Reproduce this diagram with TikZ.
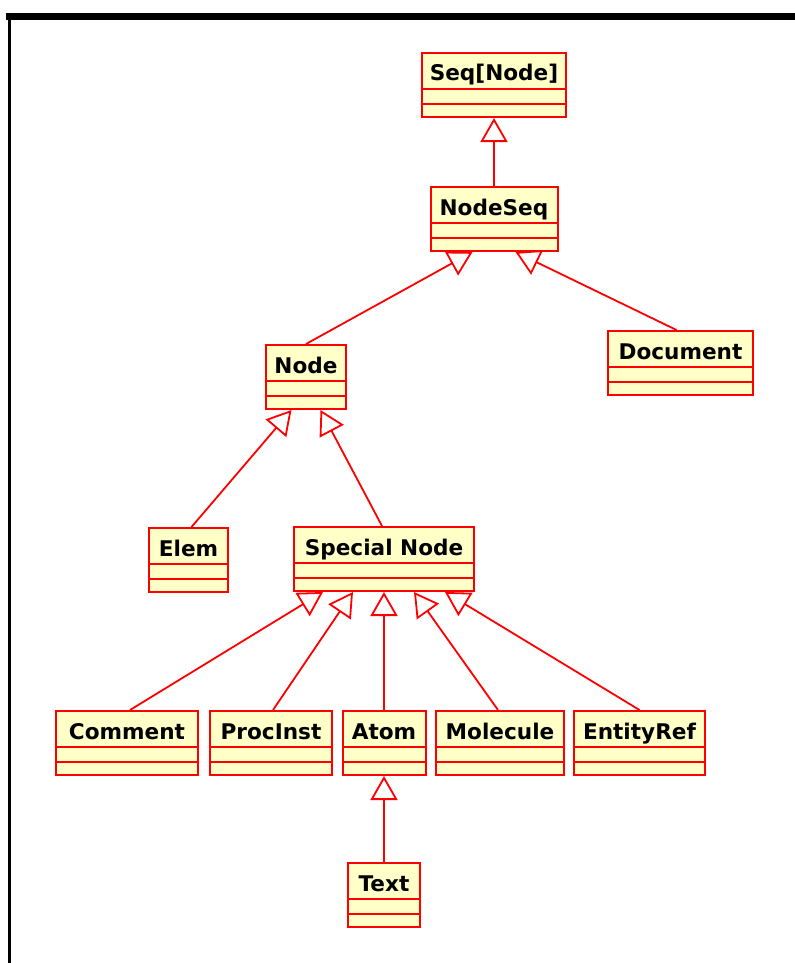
\documentclass[tikz,border=0pt]{standalone}
\usepackage{fontspec}
\newfontfamily\umlfont{DejaVu Sans}
\usetikzlibrary{arrows.meta,calc}
\definecolor{umlred}{RGB}{255,0,0}
\definecolor{umlfill}{RGB}{255,255,200}
\tikzset{class box/.style={
    draw=umlred, fill=umlfill, line width=1pt,
    anchor=north, inner xsep=0pt, inner ysep=0pt,
    text height=14pt, text depth=18pt,
    font=\umlfont\bfseries\fontsize{10.8}{13}\selectfont,
    minimum width=#1
  },
  extends/.style={
    draw=umlred, line width=0.9pt,
    -{Triangle[open, fill=white, length=12pt, width=13.5pt]}
  },
  divider/.style={
    draw=umlred, line width=1pt
  }
}

\begin{document}
\begin{tikzpicture}[x=0.5pt,y=-0.5pt]
  \useasboundingbox (0,0) rectangle (795,963);
  % -- The window frame.
  \fill[black] (6,13) rectangle (795,20);
  \fill[black] (7.5,13) rectangle (10.5,963);

  % -- The classes.
  \node[class box=72pt]   (seq)  at (494,52)    {Seq[Node]};
  \node[class box=63.5pt] (nseq) at (494,186)   {NodeSeq};
  \node[class box=40pt]   (node) at (306,344)   {Node};
  \node[class box=72.5pt] (doc)  at (680.5,330) {Document};
  \node[class box=39.5pt] (elem) at (188.5,527) {Elem};
  \node[class box=90pt]   (spec) at (384,526)   {Special Node};
  \node[class box=71pt]   (cmt)  at (127,710)   {Comment};
  \node[class box=61pt]   (proc) at (271,710)   {ProcInst};
  \node[class box=41.5pt] (atom) at (384,710)   {Atom};
  \node[class box=64pt]   (mol)  at (500,710)   {Molecule};
  \node[class box=65.5pt] (ent)  at (639.5,710) {EntityRef};
  \node[class box=36pt]   (text) at (384,862)   {Text};

  % -- The empty attribute and method compartments.
  \foreach \c in {seq,nseq,node,doc,elem,spec,cmt,proc,atom,mol,ent,text} {
    \draw[divider] ($(\c.south west)+(0,-29)$) -- ($(\c.south east)+(0,-29)$);
    \draw[divider] ($(\c.south west)+(0,-14)$) -- ($(\c.south east)+(0,-14)$);
  }

  % -- The generalisation arrows.
  \draw[extends] (nseq) -- (seq);
  \draw[extends] (node.north) -- ($(nseq.south)+(-21.5,0)$);
  \draw[extends] ($(doc.north)+(-4,0)$) -- ($(nseq.south)+(21.5,0)$);
  \draw[extends] ($(elem.north)+(3,0)$) -- ($(node.south)+(-14.5,0)$);
  \draw[extends] ($(spec.north)+(-2,0)$) -- ($(node.south)+(14.5,0)$);
  \draw[extends] ($(cmt.north)+(3,0)$) -- ($(spec.south)+(-61,0)$);
  \draw[extends] ($(proc.north)+(2,0)$) -- ($(spec.south)+(-31,0)$);
  \draw[extends] (atom) -- (spec);
  \draw[extends] ($(mol.north)+(-2,0)$) -- ($(spec.south)+(30,0)$);
  \draw[extends] (ent.north) -- ($(spec.south)+(61,0)$);
  \draw[extends] (text) -- (atom);
\end{tikzpicture}
\end{document}
